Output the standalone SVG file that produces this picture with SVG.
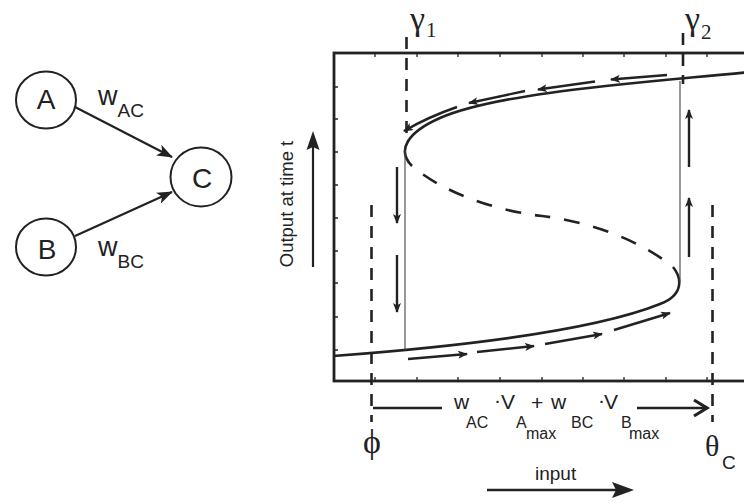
<svg xmlns="http://www.w3.org/2000/svg" width="744" height="503" viewBox="0 0 744 503">
<style>
.sans{font-family:"Liberation Sans",Arial,sans-serif;fill:#222}
.serif{font-family:"Liberation Serif","Times New Roman",serif;fill:#222}
.nd{fill:#fff;stroke:#222;stroke-width:2}
.edge{stroke:#222;stroke-width:2.2;fill:none}
.frame{stroke:#222;stroke-width:2.8;fill:none}
.tick{stroke:#222;stroke-width:1.3;fill:none}
.curve{stroke:#222;stroke-width:2.6;fill:none}
.mid{stroke:#222;stroke-width:2.6;fill:none;stroke-dasharray:16 14;stroke-dashoffset:16}
.vd{stroke:#222;stroke-width:2.6;fill:none;stroke-dasharray:12 9}
.thin{stroke:#444;stroke-width:1.1;fill:none}
.flow{stroke:#222;stroke-width:2.4;fill:none}
</style>
<defs>
<marker id="bigHead" markerUnits="userSpaceOnUse" markerWidth="16" markerHeight="12" refX="15" refY="6" orient="auto">
<path d="M0,0 L16,6 L0,12 L4,6 z" fill="#222"/>
</marker>
<marker id="smallHead" markerUnits="userSpaceOnUse" markerWidth="10" markerHeight="8" refX="9" refY="4" orient="auto">
<path d="M0,0 L10,4 L0,8 L2.5,4 z" fill="#222"/>
</marker>
</defs>

<!-- network nodes -->
<g id="nodeA"><ellipse class="nd" cx="46" cy="100" rx="30" ry="28.5"/><text class="sans" x="46" y="109" font-size="28" text-anchor="middle">A</text></g>
<g id="nodeB"><ellipse class="nd" cx="46" cy="247" rx="30" ry="28.5"/><text class="sans" x="47" y="259" font-size="28" text-anchor="middle">B</text></g>
<g id="nodeC"><ellipse class="nd" cx="201" cy="177" rx="30.5" ry="29.5"/><text class="sans" x="202" y="188" font-size="28" text-anchor="middle">C</text></g>

<g id="connectors">
<line class="edge" x1="75" y1="107" x2="172" y2="157" marker-end="url(#bigHead)"/>
<line class="edge" x1="75" y1="236" x2="172" y2="192" marker-end="url(#bigHead)"/>
</g>
<g id="edgeLabels">
<text class="sans" x="98" y="105" font-size="27">w<tspan font-size="19" dy="12" dx="0">AC</tspan></text>
<text class="sans" x="98" y="256" font-size="27">w<tspan font-size="19" dy="12" dx="0">BC</tspan></text>
</g>

<!-- y axis label -->
<g id="yaxis">
<text class="sans" transform="translate(293,204) rotate(-90)" font-size="18.5" text-anchor="middle">Output at time t</text>
<line x1="313" y1="267" x2="313" y2="140" stroke="#222" stroke-width="2.2"/>
<path d="M313,131 L319.5,150 L313,147 L306.5,150 z" fill="#222"/>
</g>

<!-- plot frame -->
<g id="frame">
<rect class="frame" x="334" y="53" width="430" height="328"/>
<path class="tick" d="M375,53v4M417,53v4M458,53v4M500,53v4M542,53v4M583,53v4M624,53v4M666,53v4M707,53v4
M375,381v-4M417,381v-4M458,381v-4M500,381v-4M542,381v-4M583,381v-4M624,381v-4M666,381v-4M707,381v-4
M334,87h4M334,119h4M334,152h4M334,185h4M334,218h4M334,251h4M334,283h4M334,317h4M334,350h4"/>
</g>

<!-- hysteresis curve -->
<g id="curve">
<path class="curve" d="M750,72 C640,83 500,92 440,118 C408,132 396,150 412,166"/>
<path class="mid" d="M412,166 C440,190 490,210 542,216"/>
<path class="mid" d="M673,267 C640,240 590,222 542,216"/>
<path class="curve" d="M673,267 C682,278 684,295 660,304 C600,328 480,345 333,356"/>
</g>

<!-- thin jump lines -->
<g id="jumps">
<line class="thin" x1="405" y1="150" x2="405" y2="350"/>
<line class="thin" x1="680" y1="81" x2="680" y2="282"/>
</g>

<!-- threshold dashed lines -->
<g id="thresholds">
<line class="vd" x1="406.5" y1="37" x2="406.5" y2="134"/>
<line class="vd" x1="683" y1="33" x2="683" y2="84"/>
<line class="vd" x1="371.5" y1="205" x2="371.5" y2="422"/>
<line class="vd" x1="712.5" y1="205" x2="712.5" y2="422"/>
</g>

<!-- flow arrows -->
<g id="flowArrows">
<path class="flow" d="M667,75 L611,79.5" marker-end="url(#smallHead)"/>
<path class="flow" d="M595,81.5 L538,89.5" marker-end="url(#smallHead)"/>
<path class="flow" d="M525,91 L469,103" marker-end="url(#smallHead)"/>
<path class="flow" d="M457,107 Q428,117 404,131" marker-end="url(#smallHead)"/>
<path class="flow" d="M397,167 L397,223" marker-end="url(#smallHead)"/>
<path class="flow" d="M397,255 L397,312" marker-end="url(#smallHead)"/>
<path class="flow" d="M408,359 L467,354" marker-end="url(#smallHead)"/>
<path class="flow" d="M477,352 L534,346" marker-end="url(#smallHead)"/>
<path class="flow" d="M545,344 L602,334" marker-end="url(#smallHead)"/>
<path class="flow" d="M614,330 L670,313" marker-end="url(#smallHead)"/>
<path class="flow" d="M689,257 L689,198" marker-end="url(#smallHead)"/>
<path class="flow" d="M689,167 L689,110" marker-end="url(#smallHead)"/>
</g>

<!-- labels gamma -->
<text class="serif" x="410" y="30" font-size="34">γ<tspan font-size="21" dy="7" dx="1">1</tspan></text>
<text class="serif" x="685" y="30" font-size="34">γ<tspan font-size="21" dy="9" dx="1">2</tspan></text>

<!-- input range arrow -->
<g id="inputRange">
<line x1="373" y1="408" x2="442" y2="408" stroke="#222" stroke-width="2.6"/>
<line x1="637" y1="408" x2="706" y2="408" stroke="#222" stroke-width="2.6"/>
<path d="M694,400 L707,408 L694,416" fill="none" stroke="#222" stroke-width="3.2"/>
<g class="sans">
<text x="454" y="409" font-size="21">w</text>
<text x="466" y="428" font-size="16">AC</text>
<text x="494" y="407" font-size="21">·</text>
<text x="501" y="409" font-size="21">V</text>
<text x="516" y="428" font-size="16">A</text>
<text x="526" y="439" font-size="16">max</text>
<text x="531" y="410" font-size="21">+</text>
<text x="551" y="409" font-size="21">w</text>
<text x="571" y="428" font-size="16">BC</text>
<text x="598" y="407" font-size="21">·</text>
<text x="604" y="409" font-size="21">V</text>
<text x="621" y="428" font-size="16">B</text>
<text x="629" y="439" font-size="16">max</text>
</g>
<text class="serif" x="363" y="453" font-size="34">ϕ</text>
<text class="serif" x="705" y="456" font-size="30">θ</text>
<text class="sans" x="722" y="469" font-size="19">C</text>
</g>

<!-- input arrow -->
<g id="inputArrow">
<text class="sans" x="535" y="480" font-size="19">input</text>
<line x1="487" y1="490" x2="616" y2="490" stroke="#222" stroke-width="2.6"/>
<path d="M634,490 L612,482 L616,490 L612,498 z" fill="#222"/>
</g>
</svg>
